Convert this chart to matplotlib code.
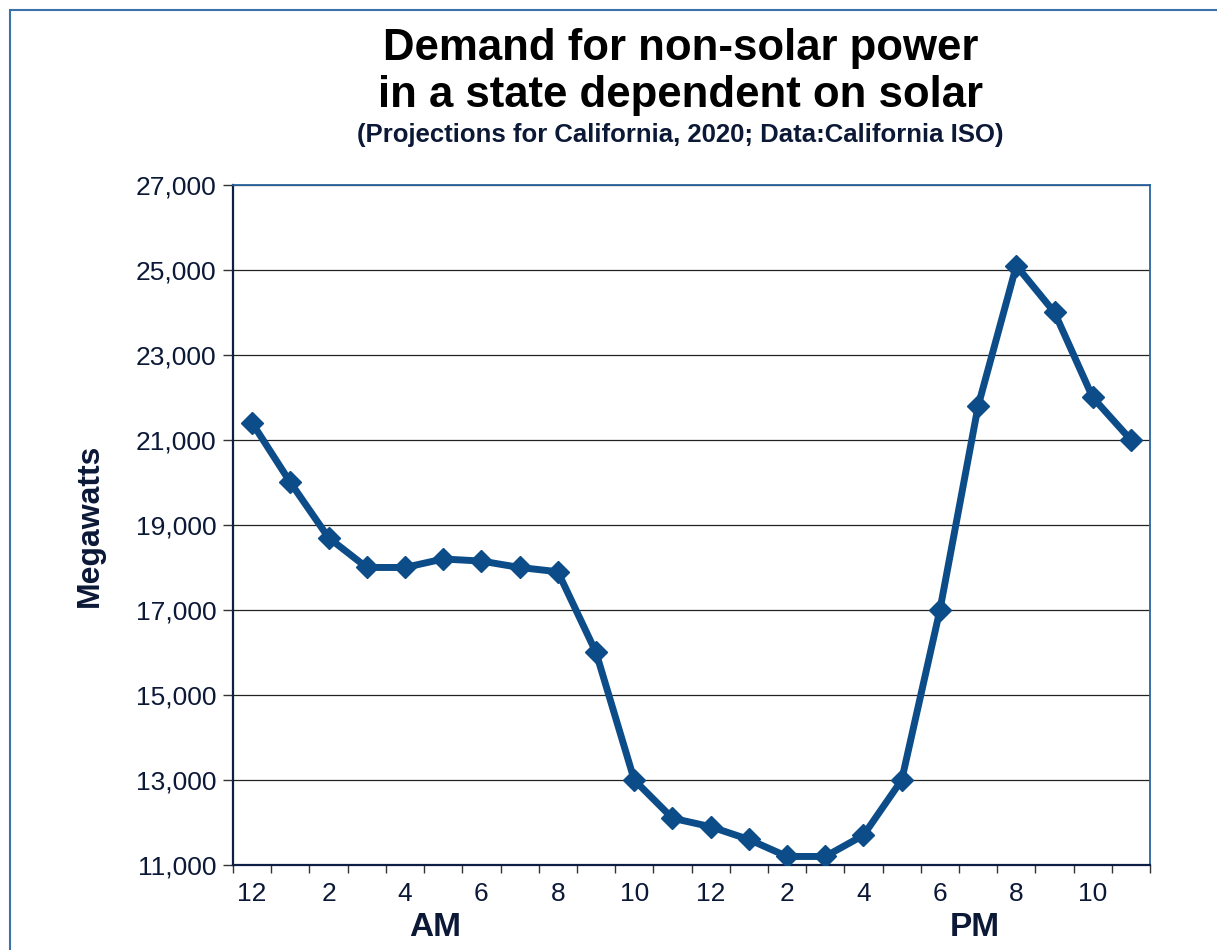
import matplotlib.pyplot as plt
from matplotlib.patches import Rectangle
from matplotlib.ticker import FuncFormatter

# datos por hora (0 = 12 AM ... 23 = 11 PM)
horas = list(range(24))
megawatts = [21400, 20000, 18700, 18000, 18000, 18200, 18150, 18000, 17900, 16000,
             13000, 12100, 11900, 11600, 11200, 11200, 11700, 13000, 17000, 21800,
             25100, 24000, 22000, 21000]
etiquetas_x = ['12', '2', '4', '6', '8', '10', '12', '2', '4', '6', '8', '10']
yticks = [11000, 13000, 15000, 17000, 19000, 21000, 23000, 25000, 27000]

plt.rcParams['font.family'] = ['Liberation Sans', 'DejaVu Sans']
azul = '#0c4c88'
texto = '#0b1836'

fig = plt.figure(figsize=(12.17, 9.5), dpi=100)
ax = fig.add_axes([0.1915, 0.0895, 0.7535, 0.7158])

ax.plot(horas, megawatts, color=azul, lw=5, marker='D', ms=11.5,
        markerfacecolor=azul, markeredgecolor=azul, zorder=3)

ax.set_xlim(-0.5, 23.5)
ax.set_ylim(11000, 27000)
ax.set_yticks(yticks)
ax.yaxis.set_major_formatter(FuncFormatter(lambda v, p: f'{int(v):,}'))
ax.grid(axis='y', color='#222222', lw=0.9)
ax.set_axisbelow(True)

ax.set_xticks(horas[::2])
ax.set_xticklabels(etiquetas_x)
ax.set_xticks([h - 0.5 for h in horas] + [23.5], minor=True)
ax.tick_params(axis='x', which='major', length=0, pad=12, labelsize=19, labelcolor=texto)
ax.tick_params(axis='x', which='minor', length=6, width=1, color='#333333')
ax.tick_params(axis='y', length=7, width=1, color='#333333', pad=5, labelsize=19, labelcolor=texto)

for s in ['left', 'bottom']:
    ax.spines[s].set_color('#0d1f45')
    ax.spines[s].set_linewidth(1.6)
for s in ['top', 'right']:
    ax.spines[s].set_color('#2a64a0')
    ax.spines[s].set_linewidth(1.3)

ax.set_ylabel('Megawatts', fontsize=23, fontweight='bold', color=texto)
ax.yaxis.set_label_coords(-0.14, 0.5)

fig.text(0.559, 0.949, 'Demand for non-solar power', ha='center', va='center',
         fontsize=31.5, fontweight='bold', color='black')
fig.text(0.559, 0.900, 'in a state dependent on solar', ha='center', va='center',
         fontsize=31.5, fontweight='bold', color='black')
fig.text(0.559, 0.858, '(Projections for California, 2020; Data:California ISO)',
         ha='center', va='center', fontsize=18.5, fontweight='bold', color=texto)
fig.text(435 / 1217, 1 - 927 / 950, 'AM', ha='center', va='center',
         fontsize=24, fontweight='bold', color=texto)
fig.text(975 / 1217, 1 - 927 / 950, 'PM', ha='center', va='center',
         fontsize=24, fontweight='bold', color=texto)

# marco exterior
fig.patches.append(Rectangle((10 / 1217, -0.1), 1.2, 1.1 - 10 / 950,
                             transform=fig.transFigure, fill=False,
                             edgecolor='#3a72ab', lw=1.5))

fig.savefig('out.png', dpi=100)
